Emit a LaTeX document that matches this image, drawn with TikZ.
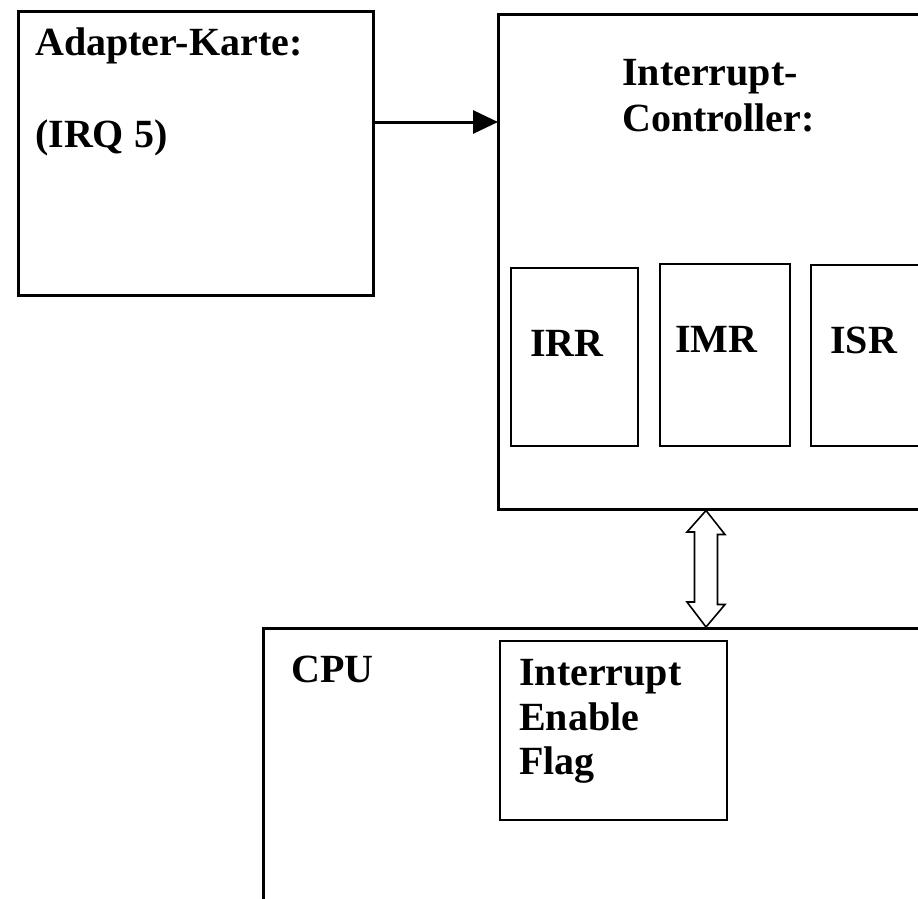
\documentclass[tikz,border=0pt]{standalone}
\usepackage{fontspec}
\setmainfont{Liberation Serif}
\usetikzlibrary{arrows.meta}
\tikzset{
  bigbox/.style={draw, line width=2.5pt, anchor=north west, inner sep=0pt},
  regbox/.style={draw, line width=2pt, anchor=north west, inner sep=0pt},
  lbl/.style={anchor=base west, inner sep=0pt, font=\fontsize{40}{46}\selectfont\bfseries},
  sigarrow/.style={line width=3pt, -{Triangle[length=25pt,width=23pt]}, shorten >=-1pt},
  busarrow/.style={line width=1.6pt, fill=white, line join=miter}
}
\begin{document}
\begin{tikzpicture}[x=1pt,y=-1pt]
\useasboundingbox (0,0) rectangle (918,898);
\clip (0,0) rectangle (918,898);
\fill[white] (0,0) rectangle (918,898);
% boxes
\node[bigbox, minimum width=355pt, minimum height=284pt] (adapter) at (17,10) {};
\node[bigbox, minimum width=440pt, minimum height=495pt] (ctrl) at (497,13) {};
\node[regbox, minimum width=127pt, minimum height=178pt] (irr) at (510,267) {};
\node[regbox, minimum width=130pt, minimum height=182pt] (imr) at (659,263) {};
\node[regbox, minimum width=130pt, minimum height=181pt] (isr) at (810,264) {};
\node[bigbox, minimum width=680pt, minimum height=300pt] (cpu) at (262,627) {};
\node[regbox, minimum width=227pt, minimum height=179pt] (flag) at (499,640) {};
% labels
\node[lbl] (tadapter) at (35,55) {Adapter-Karte:};
\node[lbl] (tirq) at (35,147) {(IRQ 5)};
\node[lbl] (tctrla) at (622,85) {Interrupt-};
\node[lbl] (tctrlb) at (622,131) {Controller:};
\node[lbl] (tirr) at (530,356) {IRR};
\node[lbl] (timr) at (675,352) {IMR};
\node[lbl] (tisr) at (830,353) {ISR};
\node[lbl] (tcpu) at (291,682) {CPU};
\node[lbl] (tfa) at (519,685) {Interrupt};
\node[lbl] (tfb) at (519,730) {Enable};
\node[lbl] (tfc) at (519,774) {Flag};
% signal arrow
\coordinate (asrc) at (adapter.east |- 0,122);
\coordinate (adst) at (ctrl.west |- 0,122);
\draw[sigarrow] (asrc) -- (adst);
% bus double arrow
\path (ctrl.south west) ++(209,0) coordinate (dt);
\path (cpu.north west) ++(444,0) coordinate (db);
\draw[busarrow] (dt) -- ++(19,24) -- ++(-7.5,0) -- ++(0,70) -- ++(7.5,0) -- (db)
  -- ++(-19,-25) -- ++(7.5,0) -- ++(0,-70) -- ++(-7.5,0) -- cycle;
\end{tikzpicture}
\end{document}
